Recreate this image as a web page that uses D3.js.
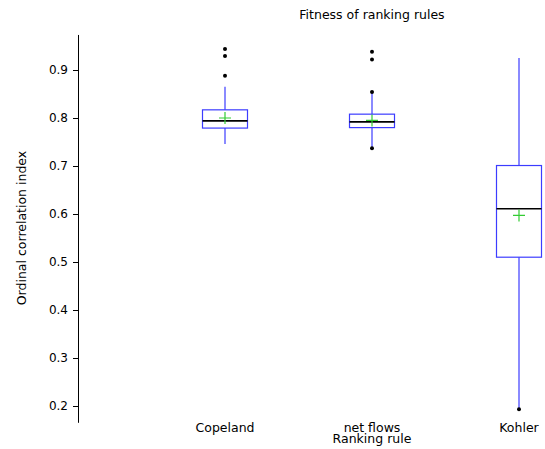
<!DOCTYPE html>
<html lang="en">
<head>
  <meta charset="UTF-8">
  <title>Fitness of ranking rules</title>
  <script src="https://cdn.jsdelivr.net/npm/d3@7"></script>
  <style>
    body { margin: 0; background: #fff; }
    text { font-family: "DejaVu Sans", sans-serif; font-size: 12.5px; fill: #000; }
  </style>
</head>
<body>
  <svg width="545" height="449"></svg>
  <script>
    // data
    var categories = ['Copeland', 'net flows', 'Kohler'];
    var q1 = [0.779, 0.780, 0.510];
    var q3 = [0.817, 0.808, 0.701];
    var medians = [0.794, 0.792, 0.611];
    var means = [0.800, 0.795, 0.597];
    var whiskerLow = [0.746, 0.737, 0.193];
    var whiskerHigh = [0.865, 0.854, 0.925];
    var outliers = [
      [0.944, 0.929, 0.888],
      [0.938, 0.922, 0.854, 0.737],
      [0.193]
    ];
    var yTicks = [0.2, 0.3, 0.4, 0.5, 0.6, 0.7, 0.8, 0.9];

    var svg = d3.select('svg');

    var xScale = d3.scaleLinear().domain([0, 3]).range([78, 519]);
    var yScale = d3.scaleLinear().domain([0.9, 0.2]).range([70, 406]);
    var boxHalf = 22.5;

    // y axis
    var yAxis = svg.append('g')
      .attr('transform', 'translate(78,0)')
      .call(d3.axisLeft(yScale).tickValues(yTicks).tickSize(5).tickPadding(5).tickFormat(d3.format('.1f')));
    yAxis.select('.domain').remove();
    yAxis.selectAll('text').style('font-family', '"DejaVu Sans", sans-serif').style('font-size', '12px');
    svg.append('line')
      .attr('x1', 78.5).attr('x2', 78.5)
      .attr('y1', yScale(0.973)).attr('y2', yScale(0.165))
      .attr('stroke', '#000');

    // category labels
    svg.selectAll('.cat').data(categories).enter().append('text')
      .attr('x', function(d, i) { return xScale(i + 1); })
      .attr('y', 432)
      .attr('text-anchor', 'middle')
      .text(function(d) { return d; });

    svg.append('text').attr('x', xScale(2)).attr('y', 443).attr('text-anchor', 'middle').text('Ranking rule');
    svg.append('text').attr('x', xScale(2)).attr('y', 19).attr('text-anchor', 'middle').text('Fitness of ranking rules');
    svg.append('text')
      .attr('transform', 'translate(26,228) rotate(-90)')
      .attr('text-anchor', 'middle')
      .text('Ordinal correlation index');

    var boxColor = '#3c3cff';

    categories.forEach(function(c, i) {
      var cx = xScale(i + 1);
      var g = svg.append('g');
      // whiskers
      g.append('line').attr('x1', cx).attr('x2', cx)
        .attr('y1', yScale(q3[i])).attr('y2', yScale(whiskerHigh[i]))
        .attr('stroke', boxColor).attr('stroke-width', 1.2);
      g.append('line').attr('x1', cx).attr('x2', cx)
        .attr('y1', yScale(q1[i])).attr('y2', yScale(whiskerLow[i]))
        .attr('stroke', boxColor).attr('stroke-width', 1.2);
      // box
      g.append('rect')
        .attr('x', cx - boxHalf).attr('width', boxHalf * 2)
        .attr('y', yScale(q3[i])).attr('height', yScale(q1[i]) - yScale(q3[i]))
        .attr('fill', 'none').attr('stroke', boxColor).attr('stroke-width', 1.2);
      // median
      g.append('line')
        .attr('x1', cx - boxHalf).attr('x2', cx + boxHalf)
        .attr('y1', yScale(medians[i])).attr('y2', yScale(medians[i]))
        .attr('stroke', '#000').attr('stroke-width', 1.6);
      // mean
      var my = yScale(means[i]);
      g.append('path')
        .attr('d', 'M' + (cx - 6) + ',' + my + 'H' + (cx + 6) + 'M' + cx + ',' + (my - 6) + 'V' + (my + 6))
        .attr('stroke', '#33cc33').attr('stroke-width', 1.2);
      // outliers
      g.selectAll('circle').data(outliers[i]).enter().append('circle')
        .attr('cx', cx).attr('cy', function(d) { return yScale(d); })
        .attr('r', 2).attr('fill', '#000');
    });
  </script>
</body>
</html>
